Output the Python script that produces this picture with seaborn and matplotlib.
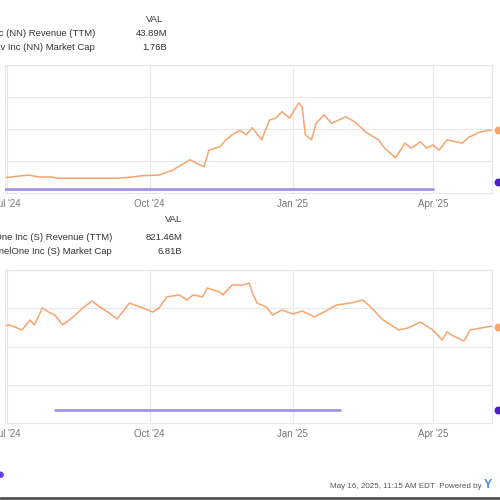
import pandas as pd
import matplotlib.pyplot as plt
import seaborn as sns

sns.set_style('white')
plt.rcParams['font.family'] = ['Liberation Sans', 'DejaVu Sans']

# NextNav (NN) market cap, billions
nn_dates = ['2024-06-26', '2024-07-15', '2024-07-22', '2024-07-30', '2024-08-04',
            '2024-08-19', '2024-09-10', '2024-09-20', '2024-09-26', '2024-10-07',
            '2024-10-16', '2024-10-27', '2024-11-02', '2024-11-05', '2024-11-08',
            '2024-11-15', '2024-11-19', '2024-11-23', '2024-11-28', '2024-12-02',
            '2024-12-06', '2024-12-12', '2024-12-17', '2024-12-21', '2024-12-25',
            '2024-12-30', '2025-01-02', '2025-01-05', '2025-01-07', '2025-01-09',
            '2025-01-13', '2025-01-16', '2025-01-21', '2025-01-26', '2025-02-04',
            '2025-02-10', '2025-02-17', '2025-02-25', '2025-03-01', '2025-03-08',
            '2025-03-14', '2025-03-18', '2025-03-24', '2025-03-28', '2025-04-01',
            '2025-04-05', '2025-04-10', '2025-04-16', '2025-04-20', '2025-04-24',
            '2025-05-01', '2025-05-07', '2025-05-13']
nn_mcap = [0.98, 1.03, 1.00, 1.00, 0.98,
           0.98, 0.98, 1.00, 1.02, 1.03,
           1.11, 1.27, 1.19, 1.16, 1.42,
           1.47, 1.58, 1.66, 1.73, 1.66,
           1.77, 1.58, 1.89, 1.92, 2.02,
           1.92, 2.05, 2.16, 2.09, 1.66,
           1.58, 1.84, 1.97, 1.84, 1.94,
           1.86, 1.70, 1.58, 1.45, 1.30,
           1.53, 1.45, 1.55, 1.45, 1.50,
           1.42, 1.58, 1.55, 1.53, 1.62,
           1.70, 1.73, 1.73]
nn_rev_dates = ['2024-06-30', '2025-04-01']
nn_rev = [5.67, 5.67]
nn_rev_last = ('2025-05-13', 15.5)

# SentinelOne (S) market cap, billions
s_dates = ['2024-06-26', '2024-07-03', '2024-07-11', '2024-07-16', '2024-07-19',
           '2024-07-24', '2024-07-29', '2024-08-01', '2024-08-06', '2024-08-12',
           '2024-08-19', '2024-08-25', '2024-08-30', '2024-09-04', '2024-09-10',
           '2024-09-18', '2024-09-25', '2024-10-03', '2024-10-07', '2024-10-12',
           '2024-10-20', '2024-10-25', '2024-10-29', '2024-11-04', '2024-11-07',
           '2024-11-15', '2024-11-17', '2024-11-23', '2024-11-30', '2024-12-04',
           '2024-12-06', '2024-12-09', '2024-12-15', '2024-12-19', '2024-12-25',
           '2025-01-01', '2025-01-07', '2025-01-15', '2025-01-21', '2025-01-29',
           '2025-02-07', '2025-02-15', '2025-02-20', '2025-02-28', '2025-03-10',
           '2025-03-16', '2025-03-24', '2025-04-01', '2025-04-07', '2025-04-10',
           '2025-04-13', '2025-04-21', '2025-04-25', '2025-05-02', '2025-05-09',
           '2025-05-13']
s_mcap = [6.27, 6.41, 6.08, 6.73, 6.41,
          7.52, 7.19, 7.06, 6.41, 6.86,
          7.52, 7.97, 7.58, 7.25, 6.80,
          7.84, 7.58, 7.25, 7.52, 8.24,
          8.37, 8.04, 8.37, 8.24, 8.82,
          8.56, 8.37, 9.02, 9.02, 9.15,
          8.50, 7.84, 7.58, 7.06, 7.39,
          7.12, 7.32, 6.93, 7.25, 7.71,
          7.84, 8.04, 7.58, 6.73, 6.08,
          6.21, 6.60, 6.08, 5.42, 5.95,
          5.75, 5.36, 6.08, 6.21, 6.34,
          6.27]
s_rev_dates = ['2024-08-01', '2025-01-31']
s_rev = [821.46, 821.46]
s_rev_last = ('2025-05-13', 840.0)

x_ticks = ['2024-07-01', '2024-10-01', '2025-01-01', '2025-04-01']
x_tick_labels = ["Jul '24", "Oct '24", "Jan '25", "Apr '25"]

ORANGE = '#f7a46e'
PURPLE = '#a393e6'
PURPLE_DOT = '#4b20c8'
GRID = '#e8e8e8'


def draw_panel(ax, dates, mcap, ylim, yticks, rev_dates, rev, rev_last, rev_ylim):
    df = pd.DataFrame({'date': pd.to_datetime(dates), 'mcap': mcap})
    sns.lineplot(data=df, x='date', y='mcap', ax=ax, color=ORANGE, linewidth=1.1)
    ax.scatter(df['date'].iloc[-1], df['mcap'].iloc[-1], s=22, color=ORANGE,
               clip_on=False, zorder=5)
    ax.set_xlim(pd.Timestamp('2024-06-30'), pd.Timestamp('2025-05-09'))
    ax.set_ylim(*ylim)
    ax.set_yticks(yticks)
    ax.set_yticklabels([])
    ax.set_xticks(pd.to_datetime(x_ticks))
    ax.set_xticklabels(x_tick_labels)
    ax.tick_params(axis='x', length=0, labelsize=7, colors='#777777', pad=4)
    ax.tick_params(axis='y', length=0)
    ax.grid(True, color=GRID, linewidth=0.8)
    ax.set_xlabel('')
    ax.set_ylabel('')
    for sp in ax.spines.values():
        sp.set_color(GRID)
        sp.set_linewidth(0.8)

    rx = ax.twinx()
    rdf = pd.DataFrame({'date': pd.to_datetime(rev_dates), 'rev': rev})
    sns.lineplot(data=rdf, x='date', y='rev', ax=rx, color=PURPLE, linewidth=2)
    rx.scatter(pd.Timestamp(rev_last[0]), rev_last[1], s=22, color=PURPLE_DOT,
               clip_on=False, zorder=5)
    rx.set_ylim(*rev_ylim)
    rx.set_yticks([])
    rx.set_ylabel('')
    for sp in rx.spines.values():
        sp.set_visible(False)


fig = plt.figure(figsize=(5, 5), dpi=100)

ax1 = fig.add_axes([0.01, 0.614, 0.974, 0.256])
draw_panel(ax1, nn_dates, nn_mcap, (0.75, 2.75), [1.25, 1.75, 2.25, 2.75],
           nn_rev_dates, nn_rev, nn_rev_last, (0, 180))

ax2 = fig.add_axes([0.01, 0.154, 0.974, 0.306])
draw_panel(ax2, s_dates, s_mcap, (0, 10), [2.5, 5, 7.5, 10],
           s_rev_dates, s_rev, s_rev_last, (0, 10000))

# legends (cropped on the left in the original)
txt = dict(fontsize=6.8, color='#333333', va='center')
fig.text(0.326, 0.960, 'VAL', ha='right', **txt)
fig.text(0.19, 0.934, 'NextNav Inc (NN) Revenue (TTM)', ha='right', **txt)
fig.text(0.334, 0.934, '43.89M', ha='right', **txt)
fig.text(0.19, 0.906, 'NextNav Inc (NN) Market Cap', ha='right', **txt)
fig.text(0.334, 0.906, '1.76B', ha='right', **txt)

fig.text(0.364, 0.562, 'VAL', ha='right', **txt)
fig.text(0.224, 0.526, 'SentinelOne Inc (S) Revenue (TTM)', ha='right', **txt)
fig.text(0.364, 0.526, '821.46M', ha='right', **txt)
fig.text(0.224, 0.496, 'SentinelOne Inc (S) Market Cap', ha='right', **txt)
fig.text(0.364, 0.496, '6.81B', ha='right', **txt)

# footer
fig.text(0.964, 0.026, 'May 16, 2025, 11:15 AM EDT  Powered by', ha='right',
         va='center', fontsize=5.8, color='#555555')
fig.text(0.968, 0.030, 'Y', ha='left', va='center', fontsize=9,
         fontweight='bold', color='#4a90d9')
fig.text(-0.008, 0.050, '\u25cf', ha='left', va='center', fontsize=11,
         color='#6a3de0')
fig.add_artist(plt.Line2D([0, 1], [0.004, 0.004], color='#555555',
                          linewidth=2, transform=fig.transFigure))

fig.savefig('out.png', dpi=100, facecolor='white')
